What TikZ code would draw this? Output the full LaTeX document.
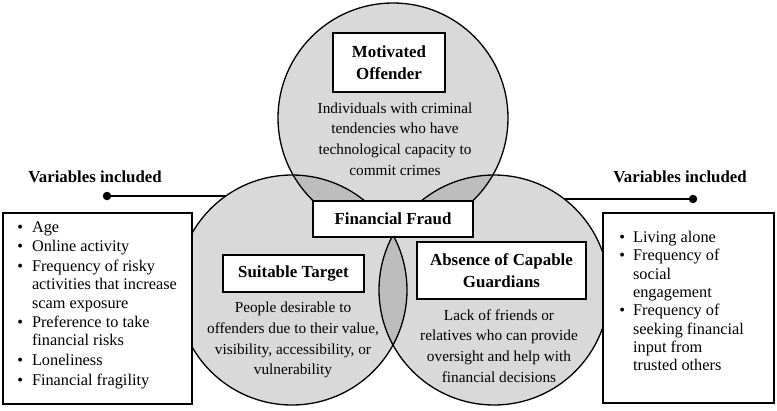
\documentclass[tikz,border=0pt]{standalone}
\usepackage{fontspec}
\setmainfont{Liberation Serif}
\begin{document}
\begin{tikzpicture}[x=1pt,y=-1pt,
  circfill/.style={fill=gray!30},
  lensfill/.style={fill=gray!52},
  circline/.style={draw=black,line width=1.3pt},
  titlebox/.style={draw=black,fill=white,line width=1.2pt,align=center,inner sep=0pt,
     font=\bfseries\fontsize{16.9}{22.5}\selectfont},
  desc/.style={align=center,inner sep=0pt,font=\fontsize{15.3}{20.7}\selectfont},
  varbox/.style={draw=black,fill=white,line width=1.2pt,inner sep=0pt},
  varhead/.style={inner sep=0pt,font=\bfseries\fontsize{16.8}{18}\selectfont},
  listtext/.style={inner sep=0pt,anchor=west,font=\fontsize{16.3}{18.3}\selectfont},
  dotnode/.style={circle,fill=black,inner sep=0pt,minimum size=8.5pt},
  connector/.style={line width=2.2pt}]
\useasboundingbox (0,0) rectangle (777,410);
% centres of the three circles
\coordinate (T) at (393,118);
\coordinate (L) at (292,290);
\coordinate (R) at (494,290);
% dots and connectors
\node[dotnode] (ldot) at (107,196) {};
\node[dotnode] (rdot) at (693,199) {};
\draw[connector] (ldot.center) -- (ldot -| L);
\draw[connector] (rdot.center) -- (rdot -| R);
% circle fills
\fill[circfill] (T) circle (115pt);
\fill[circfill] (L) circle (115pt);
\fill[circfill] (R) circle (115pt);
% overlaps
\begin{scope}\clip (T) circle (115pt); \fill[lensfill] (L) circle (115pt); \fill[lensfill] (R) circle (115pt);\end{scope}
\begin{scope}\clip (L) circle (115pt); \fill[lensfill] (R) circle (115pt);\end{scope}
% outlines
\draw[circline] (T) circle (115pt);
\draw[circline] (L) circle (115pt);
\draw[circline] (R) circle (115pt);
% variable boxes
\node[varbox,minimum width=189pt,minimum height=191pt] (lbox) at (97.5,308.5) {};
\node[varbox,minimum width=171pt,minimum height=190pt] (rbox) at (688.5,308) {};
\node[varhead] (lhead) at (95,177) {Variables included};
\node[varhead] (rhead) at (680,177) {Variables included};
\node[listtext] (llist) at (17.1,305) {\begin{tabular}{@{}c@{\hspace{9pt}}l@{}}
\textbullet & Age\\[1.3pt]
\textbullet & Online activity\\[1.3pt]
\textbullet & Frequency of risky\\
 & activities that increase\\
 & scam exposure\\[1.3pt]
\textbullet & Preference to take\\
 & financial risks\\[1.3pt]
\textbullet & Loneliness\\[1.3pt]
\textbullet & Financial fragility
\end{tabular}};
\node[listtext] (rlist) at (619.2,303) {\begin{tabular}{@{}c@{\hspace{8pt}}l@{}}
\textbullet & Living alone\\
\textbullet & Frequency of\\
 & social\\
 & engagement\\
\textbullet & Frequency of\\
 & seeking financial\\
 & input from\\
 & trusted others
\end{tabular}};
% title boxes
\node[titlebox,minimum width=112pt,minimum height=59pt] (mo) at (389,62.5) {Motivated\\Offender};
\node[titlebox,minimum width=160pt,minimum height=36pt] (ff) at (393,219) {Financial Fraud};
\node[titlebox,minimum width=141pt,minimum height=37pt] (st) at (293.5,273.5) {Suitable Target};
\node[titlebox,minimum width=169pt,minimum height=57pt] (ac) at (501.5,270.5) {Absence of Capable\\Guardians};
% descriptions
\node[desc] (mod) at (395,139) {Individuals with criminal\\tendencies who have\\technological capacity to\\commit crimes};
\node[desc] (std) at (293,340) {People desirable to\\offenders due to their value,\\visibility, accessibility, or\\vulnerability};
\node[desc] (acd) at (499,346) {Lack of friends or\\relatives who can provide\\oversight and help with\\financial decisions};
\end{tikzpicture}
\end{document}
